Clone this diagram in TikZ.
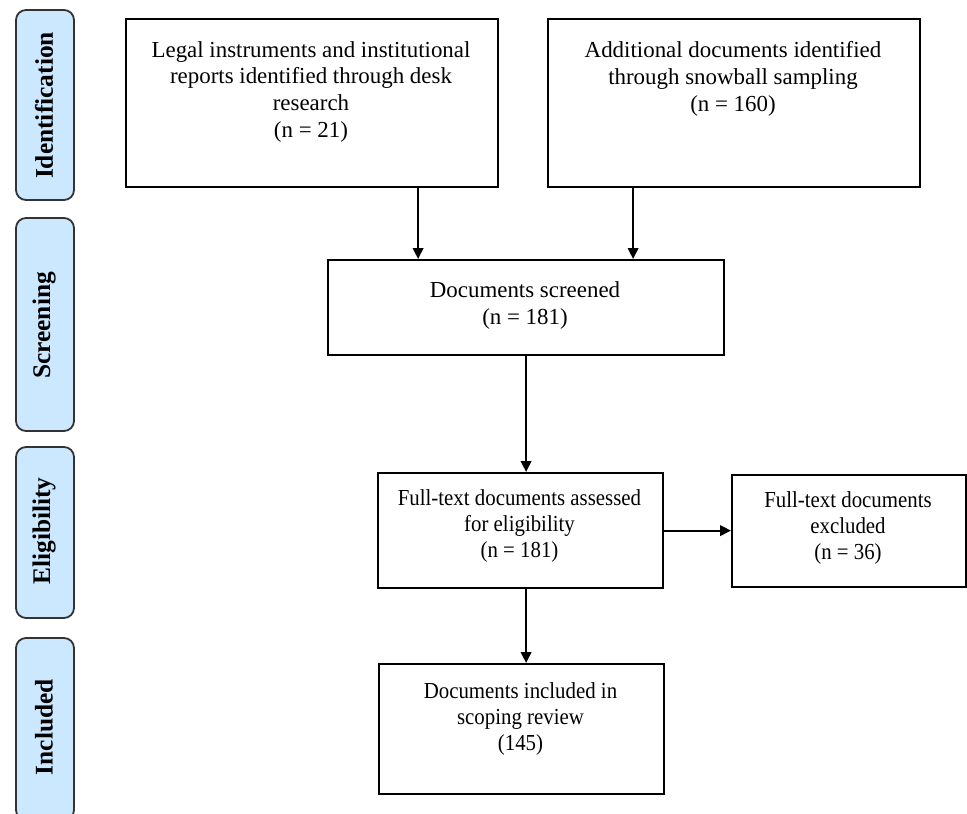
\documentclass[tikz,border=0pt]{standalone}
\usepackage{fontspec}
\setmainfont{Liberation Serif}
\newfontfamily\condserif{Liberation Serif}[FakeStretch=0.91]
\usetikzlibrary{arrows.meta,calc}
\definecolor{pillfill}{HTML}{CCE8FF}
\definecolor{pilldraw}{HTML}{333333}
\tikzset{
  box/.style={draw=black, line width=2.2bp, inner sep=0, anchor=north west},
  txt/.style={align=center, inner sep=0, anchor=north, font=\fontsize{23}{27}\selectfont},
  ctxt/.style={align=center, inner sep=0, anchor=north, font=\condserif\fontsize{23}{26.5}\selectfont},
  pill/.style={draw=pilldraw, fill=pillfill, line width=1.8bp, rounded corners=10bp, minimum width=58bp, inner sep=0},
  pilltext/.style={font=\bfseries\fontsize{25.5}{30}\selectfont, rotate=90, inner sep=0},
  arr/.style={line width=2.2bp, -{Triangle[length=11bp,width=10.5bp]}},
}
\begin{document}
\begin{tikzpicture}[x=1bp,y=-1bp]
\useasboundingbox (0,0) rectangle (967,814);
\clip (0,0) rectangle (967,814);
\fill[white] (0,0) rectangle (967,814);

% phase pills
\node[pill, minimum height=190bp] (p1) at (45,105) {};
\node[pilltext] (p1t) at (44,105.5) {Identification};
\node[pill, minimum height=213bp] (p2) at (45,324.5) {};
\node[pilltext] (p2t) at (44,325.5) {Screening};
\node[pill, minimum height=171bp] (p3) at (45,532.5) {};
\node[pilltext] (p3t) at (44,531) {Eligibility};
\node[pill, minimum height=182bp] (p4) at (45,729) {};
\node[pilltext] (p4t) at (44,727) {Included};

% boxes
\node[box, minimum width=372bp, minimum height=168bp] (b1) at (125,18) {};
\node[txt] (b1t) at (311,41) {Legal instruments and institutional\\reports identified through desk\\research\\(n = 21)};
\node[box, minimum width=372bp, minimum height=168bp] (b2) at (547,18) {};
\node[txt] (b2t) at (733,41) {Additional documents identified\\through snowball sampling\\(n = 160)};
\node[box, minimum width=396bp, minimum height=95bp] (scr) at (327,259) {};
\node[txt] (scrt) at (525,281) {Documents screened\\(n = 181)};
\node[box, minimum width=285bp, minimum height=115bp] (elig) at (377,472) {};
\node[ctxt] (eligt) at (519.5,489) {Full-text documents assessed\\for eligibility\\(n = 181)};
\node[box, minimum width=234bp, minimum height=112bp] (excl) at (731,474) {};
\node[ctxt] (exclt) at (848,491) {Full-text documents\\excluded\\(n = 36)};
\node[box, minimum width=285bp, minimum height=130bp] (incl) at (378,663) {};
\node[ctxt] (inclt) at (520.5,682) {Documents included in\\scoping review\\(145)};

% connectors
\draw[arr] ([xshift=106bp]b1.south) -- ([xshift=106bp]b1.south |- scr.north);
\draw[arr] ([xshift=-101bp]b2.south) -- ([xshift=-101bp]b2.south |- scr.north);
\draw[arr] (scr.south) -- (scr.south |- elig.north);
\draw[arr] (scr.south |- elig.south) -- (scr.south |- incl.north);
\draw[arr] (elig.east) -- (elig.east -| excl.west);
\end{tikzpicture}
\end{document}
